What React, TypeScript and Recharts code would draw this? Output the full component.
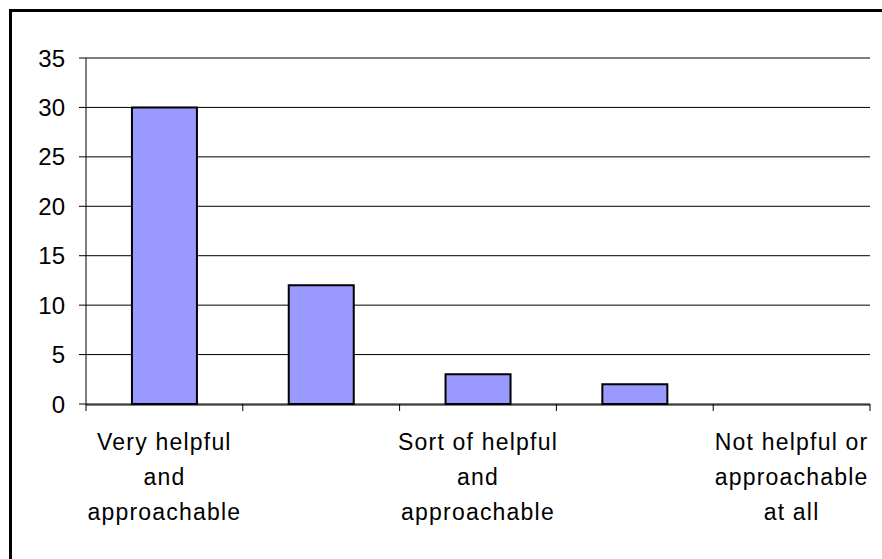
import React from 'react';
import { BarChart, Bar, XAxis, YAxis, CartesianGrid } from 'recharts';

const categories = ['Very helpful and approachable', '', 'Sort of helpful and approachable', '', 'Not helpful or approachable at all'];
const tickLines = [
  ['Very helpful', 'and', 'approachable'],
  [],
  ['Sort of helpful', 'and', 'approachable'],
  [],
  ['Not helpful or', 'approachable', 'at all'],
];
const counts = [30, 12, 3, 2, 0];
const yTicks = [0, 5, 10, 15, 20, 25, 30, 35];
const edgeTicks = [0, 1, 2, 3, 4, 5];

const data = categories.map((c, i) => ({ category: c, count: counts[i], edge: i + 0.5 }));

const FONT = '"Liberation Sans", Arial, sans-serif';

const CatTick = (props: any) => {
  const { x, y, payload } = props;
  const lines = tickLines[payload.index] || [];
  return (
    <text x={x} y={y} textAnchor="middle" fontFamily={FONT} fontSize={23} letterSpacing={1.2} fill="#000">
      {lines.map((l, i) => (
        <tspan key={i} x={x} dy={i === 0 ? 45 : 35}>{l}</tspan>
      ))}
    </text>
  );
};

export default function App() {
  return (
    <div style={{ position: 'absolute', left: 0, top: 0, width: 882, height: 559, overflow: 'hidden', background: '#fff' }}>
      <div style={{ position: 'absolute', left: 9, top: 9, width: 890, height: 570, border: '3px solid #000', boxSizing: 'border-box' }} />
      <div style={{ position: 'absolute', left: 0, top: 0 }}>
        <BarChart width={882} height={559} data={data} margin={{ top: 58, right: 12, bottom: 34, left: 26 }} barCategoryGap="29.3%">
          <CartesianGrid xAxisId="b1" vertical={false} stroke="#000" strokeWidth={1} />
          <XAxis
            xAxisId="a0"
            dataKey="edge"
            type="number"
            domain={[0, 5]}
            allowDataOverflow
            ticks={edgeTicks}
            interval={0}
            tickSize={7}
            tickFormatter={() => ''}
            axisLine={false}
            tickLine={{ stroke: '#000' }}
            height={1}
          />
          <XAxis
            xAxisId="b1"
            dataKey="category"
            tick={<CatTick />}
            tickLine={false}
            tickSize={0}
            tickMargin={0}
            axisLine={{ stroke: '#000' }}
            height={120}
            interval={0}
          />
          <YAxis
            domain={[0, 35]}
            ticks={yTicks}
            width={60}
            tickSize={7}
            tickMargin={14}
            axisLine={{ stroke: '#000' }}
            tickLine={{ stroke: '#000' }}
            tick={{ fontFamily: FONT, fontSize: 24, fill: '#000' }}
          />
          <Bar xAxisId="b1" dataKey="count" fill="#9999FF" stroke="#000" strokeWidth={2} isAnimationActive={false} />
        </BarChart>
      </div>
    </div>
  );
}
